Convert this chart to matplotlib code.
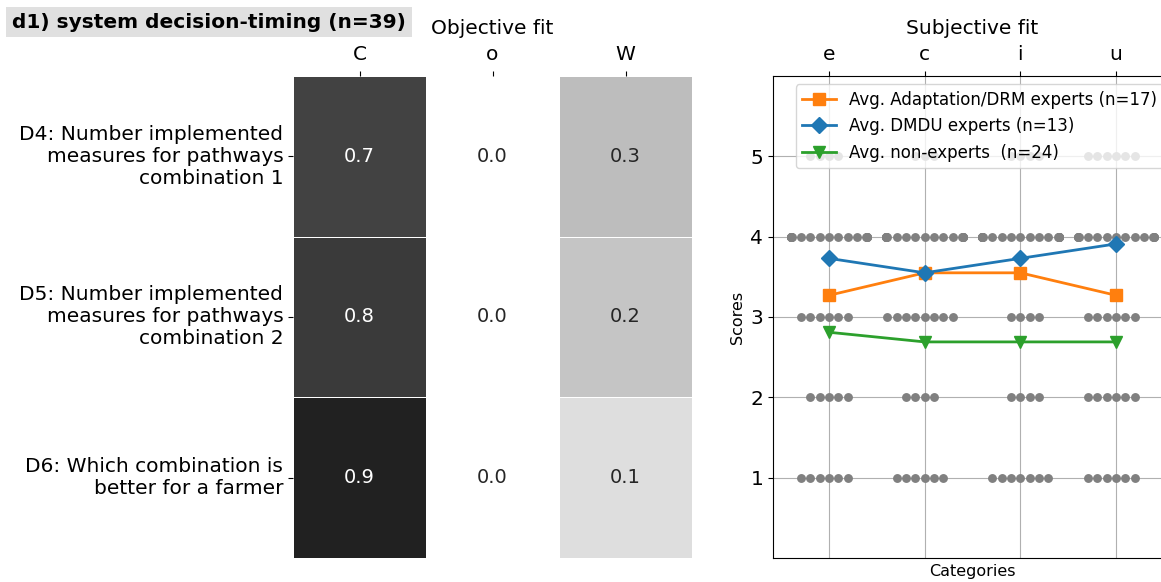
import numpy as np
import pandas as pd
import matplotlib
matplotlib.use("Agg")
import matplotlib.pyplot as plt
import seaborn as sns

# Objective fit (heatmap)
row_labels = ["D4: Number implemented\nmeasures for pathways\ncombination 1",
              "D5: Number implemented\nmeasures for pathways\ncombination 2",
              "D6: Which combination is\nbetter for a farmer"]
col_labels = ["C", "o", "W"]
fit_C = [0.74, 0.77, 0.87]
fit_o = [0.0, 0.0, 0.0]
fit_W = [0.26, 0.23, 0.13]

# Subjective fit (swarm + averages)
categories = ["e", "c", "i", "u"]
score_levels = [1, 2, 3, 4, 5]
counts_e = [6, 5, 6, 18, 4]
counts_c = [6, 4, 8, 18, 3]
counts_i = [7, 4, 4, 20, 4]
counts_u = [6, 6, 6, 15, 6]
avg_adapt = [3.27, 3.55, 3.55, 3.27]
avg_dmdu = [3.73, 3.55, 3.73, 3.91]
avg_non = [2.81, 2.69, 2.69, 2.69]

W, H = 1161, 582
fig = plt.figure(figsize=(W / 100, H / 100), dpi=100)

# --- heatmap ---
ax1 = fig.add_axes([293 / W, 1 - 558 / H, 399 / W, 482 / H])
hm = pd.DataFrame({"C": fit_C, "o": fit_o, "W": fit_W}, index=row_labels)[col_labels]
sns.heatmap(hm, ax=ax1, cmap="gray_r", vmin=0, vmax=1, annot=True, fmt=".1f",
            annot_kws={"size": 14}, linewidths=0.6, linecolor="white", cbar=False)
ax1.xaxis.tick_top()
ax1.set_xticklabels(col_labels, fontsize=14.5, rotation=0)
ax1.set_yticklabels(row_labels, fontsize=14.5, rotation=0, va="center")
ax1.tick_params(axis="x", pad=5)
ax1.set_xlabel("")
ax1.set_ylabel("")
ax1.set_title("Objective fit", fontsize=14.5, pad=8)

# --- subjective fit ---
ax2 = fig.add_axes([773 / W, 1 - 558 / H, 399 / W, 482 / H])
rows = []
for cat, cnts in zip(categories, [counts_e, counts_c, counts_i, counts_u]):
    for s, n in zip(score_levels, cnts):
        rows += [(cat, s)] * n
df = pd.DataFrame(rows, columns=["cat", "score"])
sns.swarmplot(data=df, x="cat", y="score", order=categories, color="grey",
              size=6.4, linewidth=0, ax=ax2, zorder=1)

x = np.arange(len(categories))
ax2.plot(x, avg_adapt, marker="s", color="#ff7f0e", lw=2, ms=8,
         label="Avg. Adaptation/DRM experts (n=17)")
ax2.plot(x, avg_dmdu, marker="D", color="#1f77b4", lw=2, ms=8,
         label="Avg. DMDU experts (n=13)")
ax2.plot(x, avg_non, marker="v", color="#2ca02c", lw=2, ms=8,
         label="Avg. non-experts  (n=24)")

ax2.set_ylim(0, 6)
ax2.set_yticks(score_levels)
ax2.set_xlim(-0.585, 3.585)
ax2.xaxis.tick_top()
ax2.set_xticks(x)
ax2.set_xticklabels(categories)
ax2.tick_params(labelsize=14.5)
ax2.tick_params(axis="x", pad=5)
ax2.set_axisbelow(True)
ax2.grid(True)
ax2.set_xlabel("Categories", fontsize=11.5)
ax2.set_ylabel("Scores", fontsize=11.5)
ax2.set_title("Subjective fit", fontsize=14.5, pad=8)
ax2.legend(loc="upper right", fontsize=12)

fig.text(12 / W, 1 - 22 / H, "d1) system decision-timing (n=39)", fontsize=14.5,
         fontweight="bold", va="center", ha="left",
         bbox=dict(facecolor="#e0e0e0", edgecolor="none", pad=4))

fig.savefig("out.png", dpi=100)
